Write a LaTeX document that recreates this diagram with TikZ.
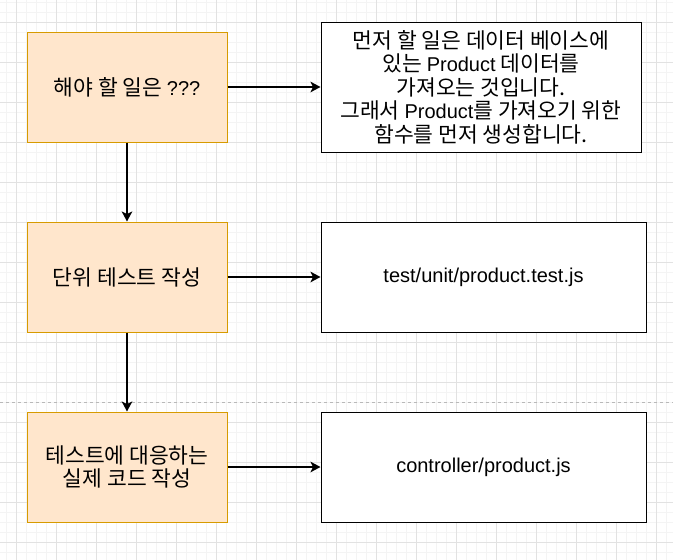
\documentclass[tikz,border=0pt]{standalone}
\usepackage{fontspec}
\setmainfont{Noto Sans CJK KR}
\newfontfamily\lat[Scale=0.93]{Liberation Sans}
\usetikzlibrary{arrows.meta}
\definecolor{ofill}{HTML}{FFE6CC}
\definecolor{odraw}{HTML}{D79B00}
\definecolor{gminor}{HTML}{F4F4F4}
\definecolor{gmajor}{HTML}{E2E2E2}
\tikzset{
  stepbox/.style={draw=odraw, fill=ofill, line width=1pt, minimum width=200pt, minimum height=110pt, inner sep=0pt, align=center, font=\fontsize{21.5}{23.5}\selectfont},
  infobox/.style={draw=black, fill=white, line width=1pt, minimum height=110pt, inner sep=0pt, align=center, font=\fontsize{21.5}{23.5}\selectfont},
  flow/.style={line width=2pt, -{Stealth[length=10pt,width=10.5pt,inset=2.5pt]}},
}
\begin{document}
\begin{tikzpicture}[x=1pt,y=-1pt]
\useasboundingbox (0,0) rectangle (673,560);
\fill[white] (0,0) rectangle (673,560);
% grid
\foreach \x in {6,16,...,666} \draw[gminor, line width=1pt] (\x,0) -- (\x,560);
\foreach \y in {2,12,...,552} \draw[gminor, line width=1pt] (0,\y) -- (673,\y);
\foreach \x in {16,56,...,656} \draw[gmajor, line width=1pt] (\x,0) -- (\x,560);
\foreach \y in {22,62,...,542} \draw[gmajor, line width=1pt] (0,\y) -- (673,\y);
% page break line
\coordinate (pbL) at (0,402.5);
\coordinate (pbR) at (673,402.5);
\draw[gray!55, line width=1pt, dash pattern=on 3pt off 3pt] (pbL) -- (pbR);
% nodes
\node[stepbox] (s1) at (127,87) {해야 할 일은 {\lat ???}};
\node[infobox, minimum width=320pt, minimum height=130pt] (r1) at (481,87) {먼저 할 일은 데이터 베이스에\\있는 {\lat Product} 데이터를\\가져오는 것입니다.\\그래서 {\lat Product}를 가져오기 위한\\함수를 먼저 생성합니다.};
\node[stepbox] (s2) at (127,277) {단위 테스트 작성};
\node[infobox, minimum width=325pt] (r2) at (483.5,277) {\lat test/unit/product.test.js};
\node[stepbox] (s3) at (127,467) {테스트에 대응하는\\실제 코드 작성};
\node[infobox, minimum width=325pt] (r3) at (483.5,467) {\lat controller/product.js};
% connectors
\draw[flow] (s1.east) -- (r1.west);
\draw[flow] (s2.east) -- (s2.east -| r2.west);
\draw[flow] (s3.east) -- (s3.east -| r3.west);
\draw[flow] (s1.south) -- (s2.north);
\draw[flow] (s2.south) -- (s3.north);
\end{tikzpicture}
\end{document}
